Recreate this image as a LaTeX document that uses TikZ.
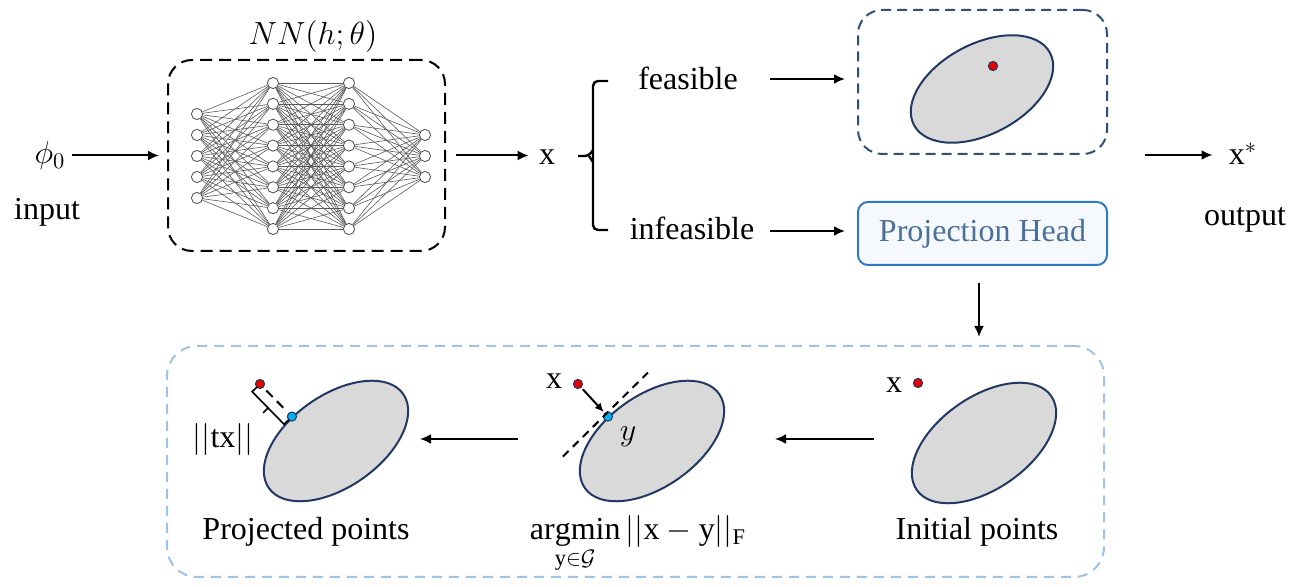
\documentclass[tikz,border=0pt]{standalone}
\usepackage{fix-cm}
\usepackage{fontspec}
\setmainfont{Liberation Serif}
\usetikzlibrary{shapes.geometric,arrows.meta,calc}
\definecolor{navy}{HTML}{203864}
\definecolor{ellgray}{HTML}{D9D9D9}
\definecolor{dotred}{HTML}{E60000}
\definecolor{dotblue}{HTML}{00B0F0}
\definecolor{feasblue}{HTML}{2E5078}
\definecolor{lightblue}{HTML}{9DC3E6}
\definecolor{projborder}{HTML}{2E7BC4}
\definecolor{projfill}{HTML}{F5F9FD}
\definecolor{projtext}{HTML}{4A709A}
\tikzset{
  arr/.style={line width=1pt,-{Latex[length=5.5pt,width=5pt]}},
  txt/.style={inner sep=0pt,anchor=base},
  neuron/.style={circle,draw=black!70,fill=white,minimum size=5.6pt,inner sep=0pt,line width=0.4pt},
  nnedge/.style={draw=black!65,line width=0.3pt},
  ell/.style={ellipse,draw=navy,fill=ellgray,line width=1pt,inner sep=0pt},
  rdot/.style={circle,fill=dotred,draw=navy,line width=0.5pt,minimum size=4.6pt,inner sep=0pt},
  bdot/.style={circle,fill=dotblue,draw=navy,line width=0.5pt,minimum size=4.6pt,inner sep=0pt},
}
\begin{document}
\begin{tikzpicture}[x=0.5pt,y=-0.5pt,font=\fontsize{16}{19}\selectfont]
\useasboundingbox (0,0) rectangle (1314,587);

% ---------- top row ----------
\node[anchor=center,inner sep=0pt] (phi) at (50,156) {$\phi_0$};
\node[txt] (input) at (47,220) {input};

\node[draw,line width=1pt,dash pattern=on 6pt off 3.5pt,rounded corners=12pt,
      minimum width=138.5pt,minimum height=95.5pt] (nnbox) at (306.5,155.5) {};
\node[anchor=center,inner sep=0pt] (nnlabel) at (313,37) {$NN(h;\theta)$};

% neural network
\foreach \i in {1,...,5} \node[neuron] (a\i) at (197,{114+21*(\i-1)}) {};
\foreach \i in {1,...,8} \node[neuron] (b\i) at (273,{83+20.86*(\i-1)}) {};
\foreach \i in {1,...,8} \node[neuron] (c\i) at (349,{83+20.86*(\i-1)}) {};
\foreach \i in {1,2,3} \node[neuron] (d\i) at (425,{135+21*(\i-1)}) {};
\foreach \i in {1,...,5} \foreach \j in {1,...,8} \draw[nnedge] (a\i) -- (b\j);
\foreach \i in {1,...,8} \foreach \j in {1,...,8} \draw[nnedge] (b\i) -- (c\j);
\foreach \i in {1,...,8} \foreach \j in {1,2,3} \draw[nnedge] (c\i) -- (d\j);

\draw[arr] ([xshift=3pt]phi.east |- nnbox.west) -- ([xshift=-4pt]nnbox.west);

\node[txt] (x0) at (547,165) {x};
\draw[arr] ([xshift=5pt]nnbox.east) -- ([xshift=-5pt]x0.west |- nnbox.east);

% brace
\draw[line width=1.2pt,rounded corners=2.5pt] (608,81) -| (593,230) -- (608,230);
\draw[line width=1.2pt,rounded corners=2pt] (593,150) -- (589,156) -- (578,156);
\draw[line width=1.2pt,rounded corners=2pt] (593,162) -- (589,156);

\node[txt] (feas) at (688,90) {feasible};
\node[txt] (infeas) at (692,240) {infeasible};

\node[draw=feasblue,line width=1pt,dash pattern=on 5pt off 3pt,rounded corners=12pt,
      minimum width=124.5pt,minimum height=72pt] (feasbox) at (982.5,82) {};
\node[ell,minimum width=77pt,minimum height=45pt,rotate=28] (fell) at (982,89) {};
\node[rdot] (fdot) at (993,66) {};

\node[draw=projborder,fill=projfill,line width=1pt,rounded corners=5pt,
      minimum width=124.5pt,minimum height=31.5pt,text=projtext] (proj) at (982.5,233.5) {Projection Head};

\coordinate (feasR) at (770,79);
\coordinate (infeasR) at (770,231);
\draw[arr] (feasR) -- ([xshift=-6pt]feasR -| feasbox.west);
\draw[arr] (infeasR) -- ([xshift=-6pt]infeasR -| proj.west);

\node[txt] (xstar) at (1243,165) {x$^{*}$};
\node[txt] (output) at (1245,226) {output};
\coordinate (outL) at (1145,155);
\draw[arr] (outL) -- ([xshift=-8pt]xstar.west |- outL);

% ---------- bottom ----------
\node[draw=lightblue,line width=1pt,dash pattern=on 5pt off 3.5pt,rounded corners=15pt,
      minimum width=468.5pt,minimum height=115.5pt] (bottom) at (635.5,461.5) {};

\coordinate (projdown) at (979,283);
\draw[arr] (projdown) -- (979,337);

% right: initial points
\node[ell,minimum width=82pt,minimum height=46pt,rotate=35] (rell) at (984,443) {};
\node[rdot] (rred) at (918,383) {};
\node[txt] (rx) at (894,393) {x};
\node[txt] (init) at (977,540) {Initial points};

% middle: projection
\node[ell,minimum width=82pt,minimum height=46pt,rotate=35] (mell) at (652,441) {};
\node[bdot] (mblue) at (mell.116) {};
\node[rdot] (mred) at (578,384) {};
\node[txt] (mx) at (554,389) {x};
\draw[line width=1pt,dash pattern=on 4pt off 3pt] ($(mblue)+(-45,40)$) -- ($(mblue)+(40,-44)$);
\draw[line width=1pt,-{Latex[length=4.5pt,width=4pt]},shorten <=1pt,shorten >=0.5pt] (mred) -- (mblue);
\node[anchor=center,inner sep=0pt] (my) at (628,437) {$y$};
\node[txt] (argmin) at (638,540) {$\mathop{\mathrm{argmin}}\limits_{\mathrm{y}\in\mathcal{G}}||\mathrm{x}-\mathrm{y}||_{\mathrm{F}}$};

% left: projected points
\node[ell,minimum width=82pt,minimum height=46pt,rotate=35] (lell) at (336,441) {};
\node[bdot] (lblue) at (lell.116) {};
\node[rdot] (lred) at (260,384) {};
\draw[line width=1pt,dash pattern=on 4.5pt off 3pt,shorten <=2pt,shorten >=2pt] (lred) -- (lblue);
\coordinate (P1) at ($(lred)!5.5pt!-90:(lblue)$);
\coordinate (P2) at ($(lblue)!5.5pt!90:(lred)$);
\coordinate (PM) at ($(P1)!.5!(P2)$);
\draw[line width=0.8pt] ($(P1)!3.5pt!(lred)$) -- (P1) -- (P2) -- ($(P2)!3.5pt!(lblue)$);
\draw[line width=0.8pt] (PM) -- ($(PM)!3.5pt!-90:(P2)$);
\node[txt] (tx) at (223,448) {$||$tx$||$};
\node[txt] (projected) at (306,540) {Projected points};

\coordinate (rm1) at (874,439);
\coordinate (rm2) at (775,439);
\coordinate (ml1) at (518,439);
\coordinate (ml2) at (420,439);
\draw[arr] (rm1) -- (rm2);
\draw[arr] (ml1) -- (ml2);
\end{tikzpicture}
\end{document}
